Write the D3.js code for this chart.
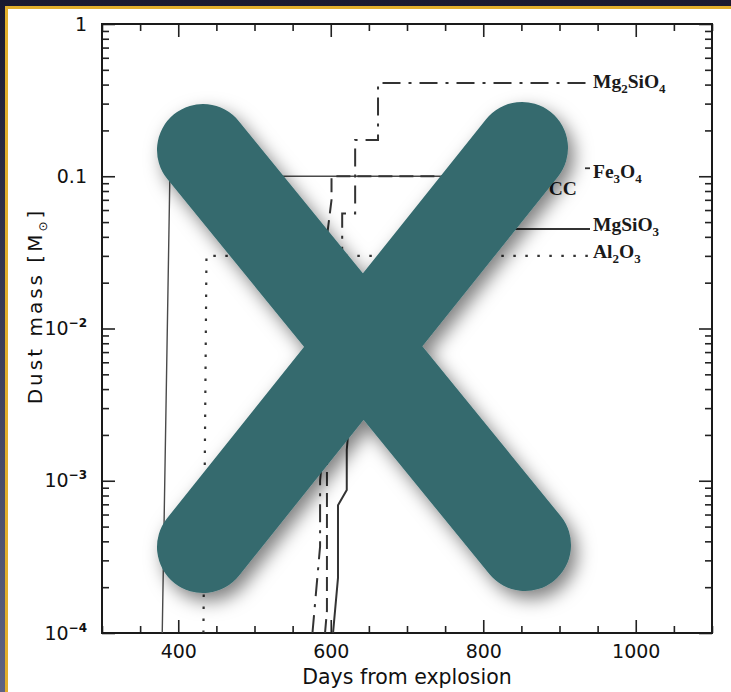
<!DOCTYPE html>
<html>
<head>
<meta charset="utf-8">
<title>Dust mass</title>
<script src="https://d3js.org/d3.v7.min.js"></script>
<style>
  html, body { margin: 0; padding: 0; background: #1b1a2f; }
  svg { display: block; }
</style>
</head>
<body>
<div id="chart"></div>
<script>
// days from explosion / dust mass [Msun]
const daysAC = [379, 389, 882];
const massAC = [1e-4, 0.1, 0.1];

const daysAl2O3 = [433, 437, 945];
const massAl2O3 = [1e-4, 0.03, 0.03];

const daysMg2SiO4 = [576, 586, 586, 600, 615, 615, 632, 632, 662, 662, 940];
const massMg2SiO4 = [1e-4, 3.7e-4, 1e-3, 0.006, 0.02, 0.057, 0.057, 0.173, 0.173, 0.41, 0.41];

const daysFe3O4 = [592.5, 595, 595, 601, 601, 880];
const massFe3O4 = [1e-4, 1.4e-4, 0.04, 0.07, 0.1, 0.1];

const daysMgSiO3 = [603, 609.5, 609.5, 621, 621, 640, 700, 940];
const massMgSiO3 = [1e-4, 2.3e-4, 6.9e-4, 8.7e-4, 1.6e-3, 0.02, 0.045, 0.045];

const seriesNames = ["AC", "Al2O3", "Mg2SiO4", "Fe3O4", "MgSiO3"];
const seriesLabels = ["CC", "Al2O3", "Mg2SiO4", "Fe3O4", "MgSiO3"];
const xTicks = [400, 600, 800, 1000];
const yTicks = [1e-4, 1e-3, 1e-2, 0.1, 1];
const yTickLabels = [["10", "-4"], ["10", "-3"], ["10", "-2"], ["0.1", ""], ["1", ""]];

const W = 731, H = 692;
const svg = d3.select("#chart").append("svg")
  .attr("width", W).attr("height", H);

// frame / background
const defs = svg.append("defs");
const bg = defs.append("linearGradient").attr("id", "bg")
  .attr("x1", 0).attr("y1", 0).attr("x2", 0).attr("y2", 1);
bg.append("stop").attr("offset", "0%").attr("stop-color", "#1a1930");
bg.append("stop").attr("offset", "100%").attr("stop-color", "#5e6383");
const sh = defs.append("filter").attr("id", "shadow")
  .attr("x", "-30%").attr("y", "-30%").attr("width", "160%").attr("height", "160%");
sh.append("feDropShadow").attr("dx", 6).attr("dy", 8).attr("stdDeviation", 9)
  .attr("flood-color", "#000").attr("flood-opacity", 0.5);

svg.append("rect").attr("width", W).attr("height", H).attr("fill", "url(#bg)");
svg.append("rect").attr("x", 5).attr("y", 6).attr("width", W - 5).attr("height", H - 6).attr("fill", "#e2ae2c");
svg.append("rect").attr("x", 8).attr("y", 9).attr("width", W - 8).attr("height", H - 9).attr("fill", "#fff");

const x = d3.scaleLinear().domain([300, 1100]).range([102, 712]);
const y = d3.scaleLog().domain([1e-4, 1]).range([633, 24]);

const tickFont = "'DejaVu Sans', sans-serif";

// minor ticks
const xMinor = d3.range(300, 1101, 50).filter(d => xTicks.indexOf(d) < 0);
const yMinor = [];
for (let k = -4; k < 0; k++) for (let m = 2; m <= 9; m++) yMinor.push(m * Math.pow(10, k));

function styleAxis(g) {
  g.select(".domain").remove();
  g.selectAll(".tick line").attr("stroke", "#222").attr("stroke-width", 1.6);
}

// bottom
svg.append("g").attr("transform", `translate(0,${y.range()[0]})`)
  .call(d3.axisBottom(x).tickValues(xTicks).tickSizeInner(-13).tickSizeOuter(0).tickPadding(12).tickFormat(d3.format("d")))
  .call(styleAxis)
  .call(g => g.selectAll("text").attr("font-family", tickFont).attr("font-size", 19).attr("fill", "#111"));
svg.append("g").attr("transform", `translate(0,${y.range()[0]})`)
  .call(d3.axisBottom(x).tickValues(xMinor).tickSizeInner(-7).tickSizeOuter(0).tickFormat(""))
  .call(styleAxis);
// top
svg.append("g").attr("transform", `translate(0,${y.range()[1]})`)
  .call(d3.axisTop(x).tickValues(xTicks).tickSizeInner(-13).tickSizeOuter(0).tickFormat(""))
  .call(styleAxis);
svg.append("g").attr("transform", `translate(0,${y.range()[1]})`)
  .call(d3.axisTop(x).tickValues(xMinor).tickSizeInner(-7).tickSizeOuter(0).tickFormat(""))
  .call(styleAxis);
// left
svg.append("g").attr("transform", `translate(${x.range()[0]},0)`)
  .call(d3.axisLeft(y).tickValues(yTicks).tickSizeInner(-13).tickSizeOuter(0).tickPadding(15).tickFormat(""))
  .call(styleAxis)
  .call(g => g.selectAll(".tick text").each(function (d, i) {
    const t = d3.select(this).attr("font-family", tickFont).attr("font-size", 19).attr("fill", "#111");
    const lab = yTickLabels[i];
    t.append("tspan").text(lab[0]);
    if (lab[1]) t.append("tspan").attr("dy", -8).attr("font-size", 12).attr("font-weight", "bold")
      .text(lab[1].replace("-", "\u2212"));
  }));
svg.append("g").attr("transform", `translate(${x.range()[0]},0)`)
  .call(d3.axisLeft(y).tickValues(yMinor).tickSizeInner(-7).tickSizeOuter(0).tickFormat(""))
  .call(styleAxis);
// right
svg.append("g").attr("transform", `translate(${x.range()[1]},0)`)
  .call(d3.axisRight(y).tickValues(yTicks).tickSizeInner(-13).tickSizeOuter(0).tickFormat(""))
  .call(styleAxis);
svg.append("g").attr("transform", `translate(${x.range()[1]},0)`)
  .call(d3.axisRight(y).tickValues(yMinor).tickSizeInner(-7).tickSizeOuter(0).tickFormat(""))
  .call(styleAxis);

svg.append("rect")
  .attr("x", x.range()[0]).attr("y", y.range()[1])
  .attr("width", x.range()[1] - x.range()[0]).attr("height", y.range()[0] - y.range()[1])
  .attr("fill", "none").attr("stroke", "#1a1a1a").attr("stroke-width", 2);

// axis titles
svg.append("text")
  .attr("x", (x.range()[0] + x.range()[1]) / 2).attr("y", 684)
  .attr("text-anchor", "middle").attr("font-family", tickFont).attr("font-size", 20.5).attr("fill", "#111")
  .text("Days from explosion");
const yt = svg.append("text")
  .attr("transform", "translate(42,306) rotate(-90)")
  .attr("text-anchor", "middle").attr("font-family", tickFont).attr("font-size", 20)
  .attr("letter-spacing", 3).attr("fill", "#111");
yt.append("tspan").text("Dust mass [M");
yt.append("tspan").attr("dy", 5).attr("font-size", 12).text("\u2299");
yt.append("tspan").attr("dy", -5).text("]");

// curves
const dataSets = {
  AC: d3.zip(daysAC, massAC),
  Al2O3: d3.zip(daysAl2O3, massAl2O3),
  Mg2SiO4: d3.zip(daysMg2SiO4, massMg2SiO4),
  Fe3O4: d3.zip(daysFe3O4, massFe3O4),
  MgSiO3: d3.zip(daysMgSiO3, massMgSiO3)
};
// label column sits just right of the line ends
const labelX = x(940) + 3;
const styles = {
  AC: { dash: null, w: 1.4, c: "#4a4a4a", lx: x(882) + 3, dy: 19 },
  Al2O3: { dash: "2.5,9.5", w: 2.2, c: "#333", lx: labelX, dy: 2 },
  Mg2SiO4: { dash: "18,8,3,8", w: 2, c: "#333", lx: labelX, dy: 5 },
  Fe3O4: { dash: "14,7", w: 2, c: "#333", lx: labelX, dy: 2, lead: true },
  MgSiO3: { dash: null, w: 2, c: "#333", lx: labelX, dy: 2 }
};
const line = d3.line().x(d => x(d[0])).y(d => y(d[1]));

function chemLabel(sel, s) {
  let sub = false;
  s.split(/(\d+)/).filter(p => p.length).forEach(part => {
    const isNum = /^\d+$/.test(part);
    const dy = isNum && !sub ? 5 : (!isNum && sub ? -5 : 0);
    const ts = sel.append("tspan").attr("dy", dy).text(part);
    if (isNum) ts.attr("font-size", 13);
    sub = isNum;
  });
}

seriesNames.forEach((name, i) => {
  const pts = dataSets[name], st = styles[name];
  svg.append("path").datum(pts)
    .attr("d", line).attr("fill", "none")
    .attr("stroke", st.c).attr("stroke-width", st.w)
    .attr("stroke-dasharray", st.dash);
  const last = pts[pts.length - 1];
  const ly = y(last[1]) + st.dy;
  if (st.lead) {
    svg.append("line").attr("x1", st.lx - 8).attr("x2", st.lx - 3)
      .attr("y1", ly - 10).attr("y2", ly - 10).attr("stroke", "#333").attr("stroke-width", 1.8);
  }
  const lab = svg.append("text")
    .attr("x", st.lx).attr("y", ly)
    .attr("font-family", "'Liberation Serif', serif").attr("font-size", 19.5)
    .attr("font-weight", "bold").attr("fill", "#1a1a1a");
  chemLabel(lab, seriesLabels[i]);
});

// big X overlay
const xg = svg.append("g").attr("filter", "url(#shadow)");
xg.append("path").attr("d", "M203,150 L525,545 M522,148 L203,547")
  .attr("stroke", "#346a6e").attr("stroke-width", 92)
  .attr("stroke-linecap", "round").attr("fill", "none");
</script>
</body>
</html>
